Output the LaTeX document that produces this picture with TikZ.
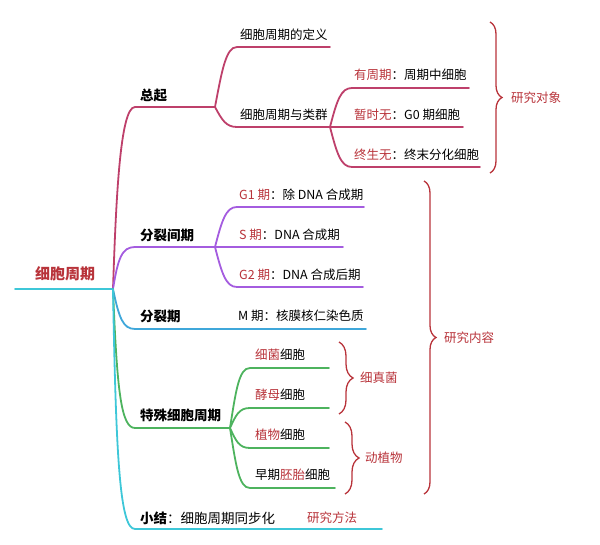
\documentclass[tikz,border=0pt]{standalone}
\usepackage{fontspec}
\setmainfont{Noto Sans CJK SC}
\usepackage{tikz}
\usetikzlibrary{decorations.pathreplacing}
\definecolor{hlred}{HTML}{B8333A}
\definecolor{zqcol}{HTML}{BE406B}
\definecolor{jqcol}{HTML}{A45CDF}
\definecolor{fqcol}{HTML}{3FA7DA}
\definecolor{tscol}{HTML}{4DB35E}
\definecolor{xjcol}{HTML}{3EC7D8}
\newcommand{\hl}[1]{\textcolor{hlred}{#1}}

\begin{document}
\begin{tikzpicture}[x=1pt, y=-1pt,
  txt/.style={anchor=west, inner sep=0pt, font=\fontsize{12.5}{15}\selectfont},
  head/.style={anchor=west, inner sep=0pt, font=\fontsize{13.5}{16}\selectfont\bfseries},
  br/.style={line width=1.8pt, line cap=round},
  kuo/.style={draw=hlred, line width=1.3pt, decorate, decoration={brace, amplitude=12pt}}]
 \useasboundingbox (0,0) rectangle (600,545);
 % nodes
 \node[anchor=west, inner sep=0pt, text=hlred, font=\fontsize{15}{18}\selectfont\bfseries] (root) at (35, 274) {细胞周期};
 \node[head] (zq) at (140, 95) {总起};
 \node[txt] (zq1) at (240, 35) {细胞周期的定义};
 \node[txt] (zq2) at (240, 115) {细胞周期与类群};
 \node[txt] (lq1) at (354, 75) {\hl{有周期}：周期中细胞};
 \node[txt] (lq2) at (354, 115) {\hl{暂时无}：G0 期细胞};
 \node[txt] (lq3) at (354, 155) {\hl{终生无}：终末分化细胞};
 \node[txt, text=hlred] (dx) at (511, 98) {研究对象};
 \node[head] (jq) at (140, 235) {分裂间期};
 \node[txt] (jq1) at (239, 195) {\hl{G1 期}：除 DNA 合成期};
 \node[txt] (jq2) at (239, 235) {\hl{S 期}：DNA 合成期};
 \node[txt] (jq3) at (239, 275) {\hl{G2 期}：DNA 合成后期};
 \node[head] (fq) at (140, 316) {分裂期};
 \node[txt] (fq1) at (238, 316) {M 期：核膜核仁染色质};
 \node[txt, text=hlred] (nr) at (444, 338) {研究内容};
 \node[head] (ts) at (140, 415) {特殊细胞周期};
 \node[txt] (ts1) at (255, 355) {\hl{细菌}细胞};
 \node[txt] (ts2) at (255, 395) {\hl{酵母}细胞};
 \node[txt] (ts3) at (255, 435) {\hl{植物}细胞};
 \node[txt] (ts4) at (255, 475) {早期\hl{胚胎}细胞};
 \node[txt, text=hlred] (xzj) at (360, 378) {细真菌};
 \node[txt, text=hlred] (dzw) at (365, 458) {动植物};
 \node[txt, font=\fontsize{13.5}{16}\selectfont] (xj) at (140, 518) {\textbf{小结}：细胞周期同步化};
 \node[txt, text=hlred] (ff) at (307, 518) {研究方法};
 % branch points
 \coordinate (r0) at (15, 289);
 \coordinate (r) at (113, 289);
 \coordinate (zqp) at (215, 107);
 \coordinate (lqp) at (330, 127);
 \coordinate (jqp) at (215, 247);
 \coordinate (tsp) at (230, 428);
 % root
 \draw[br, xjcol] (r0) -- (r);
 % 总起
 \draw[br, zqcol] (r) .. controls (116, 200) and (120, 107) .. (135, 107) -- (zqp);
 \draw[br, zqcol] (zqp) .. controls (222, 70) and (226, 47) .. (237, 47) -- (330, 47);
 \draw[br, zqcol] (zqp) .. controls (222, 120) and (226, 127) .. (237, 127) -- (lqp);
 \draw[br, zqcol] (lqp) .. controls (337, 100) and (341, 88) .. (352, 88) -- (469, 88);
 \draw[br, zqcol] (lqp) -- (463, 127);
 \draw[br, zqcol] (lqp) .. controls (337, 154) and (341, 167) .. (352, 167) -- (480, 167);
 % 分裂间期
 \draw[br, jqcol] (r) .. controls (118, 258) and (122, 247) .. (135, 247) -- (jqp);
 \draw[br, jqcol] (jqp) .. controls (222, 220) and (226, 207) .. (237, 207) -- (364, 207);
 \draw[br, jqcol] (jqp) -- (343, 247);
 \draw[br, jqcol] (jqp) .. controls (222, 274) and (226, 287) .. (237, 287) -- (363, 287);
 % 分裂期
 \draw[br, fqcol] (r) .. controls (119, 318) and (123, 329) .. (135, 329) -- (366, 329);
 % 特殊细胞周期
 \draw[br, tscol] (r) .. controls (117, 390) and (121, 428) .. (135, 428) -- (tsp);
 \draw[br, tscol] (tsp) .. controls (236, 390) and (239, 368) .. (250, 368) -- (329, 368);
 \draw[br, tscol] (tsp) .. controls (236, 415) and (239, 408) .. (250, 408) -- (329, 408);
 \draw[br, tscol] (tsp) .. controls (236, 441) and (239, 448) .. (250, 448) -- (329, 448);
 \draw[br, tscol] (tsp) .. controls (236, 466) and (239, 488) .. (250, 488) -- (335, 488);
 % 小结
 \draw[br, xjcol] (r) .. controls (116, 460) and (120, 529) .. (135, 529) -- (382, 529);
 % braces
 \draw[kuo] (490, 22) -- (490, 173);
 \draw[kuo] (424, 181) -- (424, 494);
 \draw[kuo, decoration={amplitude=14pt}] (339, 342) -- (339, 414);
 \draw[kuo, decoration={amplitude=14pt}] (345, 422) -- (345, 494);
\end{tikzpicture}
\end{document}
